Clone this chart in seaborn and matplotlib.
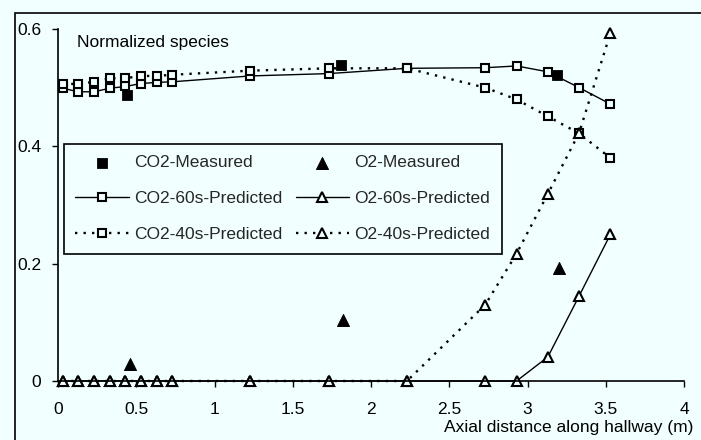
import matplotlib
matplotlib.use("Agg")
import matplotlib.pyplot as plt
import seaborn as sns
import pandas as pd
from matplotlib.patches import Rectangle

x_pred = [0.03, 0.13, 0.23, 0.33, 0.43, 0.53, 0.63, 0.73, 1.23, 1.73, 2.23, 2.73, 2.93, 3.13, 3.33, 3.53]
co2_60s = [0.499, 0.493, 0.493, 0.499, 0.502, 0.507, 0.509, 0.510, 0.520, 0.524, 0.533, 0.534, 0.537, 0.527, 0.500, 0.472]
co2_40s = [0.507, 0.506, 0.510, 0.516, 0.516, 0.520, 0.520, 0.522, 0.529, 0.533, 0.533, 0.500, 0.480, 0.451, 0.422, 0.380]
o2_60s = [0, 0, 0, 0, 0, 0, 0, 0, 0, 0, 0, 0, 0, 0.041, 0.145, 0.250]
o2_40s = [0, 0, 0, 0, 0, 0, 0, 0, 0, 0, 0, 0.130, 0.217, 0.319, 0.423, 0.593]
co2_meas_x = [0.44, 1.81, 3.19]
co2_meas = [0.487, 0.539, 0.521]
o2_meas_x = [0.46, 1.82, 3.20]
o2_meas = [0.029, 0.104, 0.193]
x_ticks = [0, 0.5, 1, 1.5, 2, 2.5, 3, 3.5, 4]
x_tick_labels = ["0", "0.5", "1", "1.5", "2", "2.5", "3", "3.5", "4"]
y_ticks = [0, 0.2, 0.4, 0.6]
y_tick_labels = ["0", "0.2", "0.4", "0.6"]

BG = "#F2FFFF"
sns.set_theme(style="white")
plt.rcParams["font.family"] = ["Liberation Sans", "DejaVu Sans"]

fig = plt.figure(figsize=(7.01, 4.40), dpi=100, facecolor=BG)
ax = fig.add_axes([58 / 701, 1 - 381 / 440, 626 / 701, 352 / 440])
ax.set_facecolor(BG)

dot = (0, (1, 2.6))
ms_open = 6
common = dict(color="black", ax=ax, clip_on=False, markeredgecolor="black",
              markerfacecolor=BG, markeredgewidth=1.5, markersize=ms_open)

pred = pd.DataFrame({"x": x_pred, "co2_60s": co2_60s, "co2_40s": co2_40s,
                     "o2_60s": o2_60s, "o2_40s": o2_40s})

sns.scatterplot(x=co2_meas_x, y=co2_meas, marker="s", s=55, color="black",
                edgecolor="black", ax=ax, label="CO2-Measured", clip_on=False, zorder=5)
sns.lineplot(data=pred, x="x", y="co2_60s", marker="s", linewidth=1.0,
             label="CO2-60s-Predicted", **common)
sns.lineplot(data=pred, x="x", y="co2_40s", marker="s", linewidth=1.7,
             linestyle=dot, label="CO2-40s-Predicted", **common)
sns.scatterplot(x=o2_meas_x, y=o2_meas, marker="^", s=75, color="black",
                edgecolor="black", ax=ax, label="O2-Measured", clip_on=False, zorder=5)
sns.lineplot(data=pred, x="x", y="o2_60s", marker="^", linewidth=1.0,
             label="O2-60s-Predicted", **{**common, "markersize": 6.5})
sns.lineplot(data=pred, x="x", y="o2_40s", marker="^", linewidth=1.7,
             linestyle=dot, label="O2-40s-Predicted", **{**common, "markersize": 6.5})

ax.set_xlim(0, 4)
ax.set_ylim(0, 0.6)
ax.set_xticks(x_ticks)
ax.set_xticklabels(x_tick_labels)
ax.set_yticks(y_ticks)
ax.set_yticklabels(y_tick_labels)
ax.set_xlabel("")
ax.set_ylabel("")
for s in ["top", "right"]:
    ax.spines[s].set_visible(False)
for s in ["left", "bottom"]:
    ax.spines[s].set_color("black")
    ax.spines[s].set_linewidth(1.2)
ax.tick_params(axis="both", which="major", direction="out", length=4, width=1.0,
               color="black", labelsize=12.5, labelcolor="black")
ax.tick_params(axis="x", pad=11)
ax.tick_params(axis="y", pad=8)
ax.tick_params(left=True, bottom=True)

handles, labels = ax.get_legend_handles_labels()
order = ["CO2-Measured", "CO2-60s-Predicted", "CO2-40s-Predicted",
         "O2-Measured", "O2-60s-Predicted", "O2-40s-Predicted"]
hd = dict(zip(labels, handles))
leg = ax.legend([hd[k] for k in order], order, ncol=2, loc="upper left",
                bbox_to_anchor=(6 / 626, (381 - 144) / 352), fontsize=12.5,
                frameon=True, fancybox=False, facecolor=BG, edgecolor="black",
                framealpha=1, handlelength=3.1, handletextpad=0.3,
                columnspacing=0.75, labelspacing=1.2, borderpad=0.65,
                borderaxespad=0)
leg.get_frame().set_linewidth(1.2)

fig.text(77 / 701, 1 - 42 / 440, "Normalized species", fontsize=12.5,
         va="center", ha="left", color="black")
fig.text(693 / 701, 1 - 427 / 440, "Axial distance along hallway (m)",
         fontsize=12.5, va="center", ha="right", color="black")

fig.patches.append(Rectangle((15 / 701, -0.2), 1.2, 0.2 + (440 - 13) / 440,
                             transform=fig.transFigure, fill=False,
                             edgecolor="black", linewidth=1.2))

fig.savefig("out.png", dpi=100, facecolor=BG)
